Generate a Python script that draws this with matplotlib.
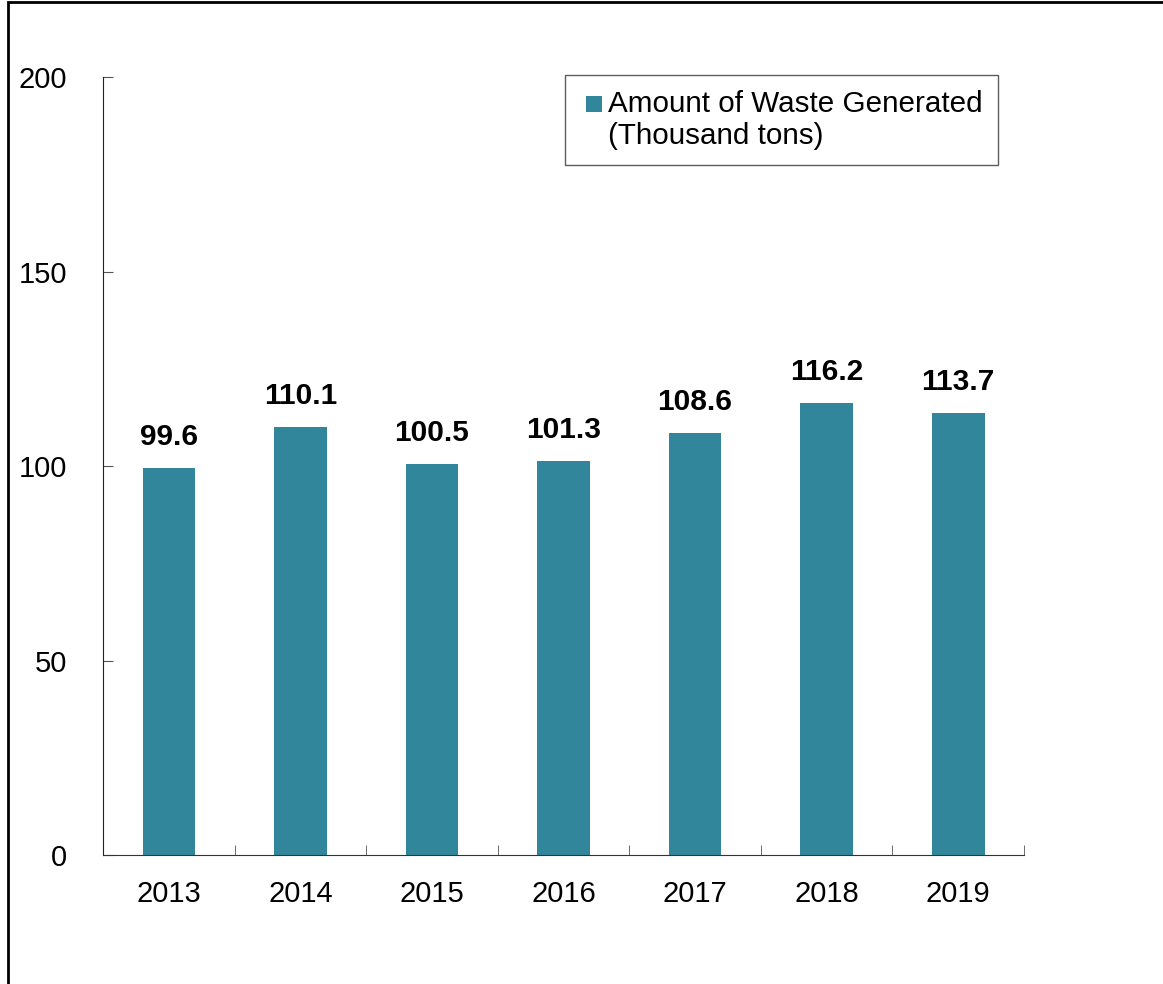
import numpy as np
import matplotlib
matplotlib.use("Agg")
from matplotlib import pyplot as plt
from matplotlib.patches import Rectangle
from matplotlib.container import BarContainer
from matplotlib.legend_handler import HandlerPatch

# Data
years = ['2013', '2014', '2015', '2016', '2017', '2018', '2019']
waste = [99.6, 110.1, 100.5, 101.3, 108.6, 116.2, 113.7]
series_name = 'Amount of Waste Generated\n(Thousand tons)'
y_ticks = [0, 50, 100, 150, 200]

plt.rcParams['font.family'] = ['Liberation Sans', 'DejaVu Sans']

fig = plt.figure(figsize=(11.63, 9.84), dpi=100)
ax = fig.add_axes([0.0886, 0.1311, 0.7919, 0.7906])

x = np.arange(len(years))
bars = ax.bar(x, waste, width=0.4, color='#31869B', label=series_name, zorder=2)

for xi, v in zip(x, waste):
    ax.annotate(f'{v:.1f}', (xi, v), xytext=(0, 17), textcoords='offset pixels',
                ha='center', va='bottom', fontsize=21.5, fontweight='bold')

ax.set_xlim(-0.5, len(years) - 0.5)
ax.set_ylim(0, 200)
ax.set_yticks(y_ticks)
ax.set_yticklabels([str(t) for t in y_ticks])
ax.set_xticks(x)
ax.set_xticklabels(years)
ax.set_xticks(np.arange(len(years) + 1) - 0.5, minor=True)

ax.tick_params(axis='y', direction='in', length=7, color='#555555', pad=26, labelsize=21)
ax.tick_params(axis='x', which='major', length=0, pad=18, labelsize=21)
ax.tick_params(axis='x', which='minor', direction='in', length=7, color='#555555')

for side in ['top', 'right']:
    ax.spines[side].set_visible(False)
ax.spines['left'].set_color('#222222')
ax.spines['bottom'].set_color('#333333')


# small square aligned with the first line of the legend text
def top_square(legend, orig_handle, xdescent, ydescent, width, height, fontsize):
    s = 0.55 * fontsize
    return Rectangle((-xdescent + width - s, -ydescent + height - s), s, s)


def copy_color(legend_handle, orig_handle):
    legend_handle.set_facecolor(orig_handle.patches[0].get_facecolor())
    legend_handle.set_edgecolor('none')


leg = ax.legend(loc='upper left', bbox_to_anchor=(0.502, 1.003), fontsize=21.3,
                frameon=True, fancybox=False, edgecolor='#333333',
                handlelength=0.75, handleheight=2.3, handletextpad=0.2,
                borderpad=0.5, borderaxespad=0,
                handler_map={BarContainer: HandlerPatch(patch_func=top_square,
                                                        update_func=copy_color)})
leg.get_frame().set_linewidth(1.0)

# outer frame (cropped on right and bottom in the reference)
fig.patches.append(Rectangle((0.0065, -0.05), 1.05, 1.048, transform=fig.transFigure,
                             fill=False, edgecolor='black', linewidth=2))

fig.savefig('out.png', dpi=100)
